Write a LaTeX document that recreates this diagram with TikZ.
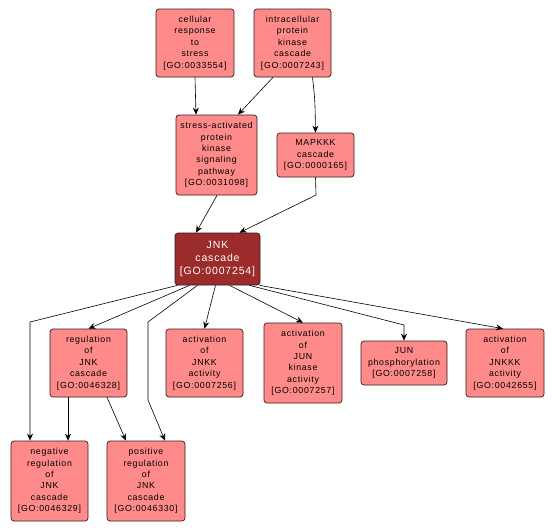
\documentclass[tikz,border=0pt]{standalone}
\usepackage{fontspec}
\setmainfont{Liberation Sans}
\newfontfamily\gofont[LetterSpace=8]{Liberation Sans}
\usetikzlibrary{arrows.meta}
\definecolor{gofill}{HTML}{FF8A8A}
\definecolor{goroot}{HTML}{9C2C2C}
\definecolor{goline}{HTML}{3A1A1A}
\begin{document}
\begin{tikzpicture}[x=1pt,y=-1pt,
  goterm/.style={draw=goline, fill=gofill, rounded corners=3pt, line width=0.7pt,
    align=center, inner sep=1pt, font=\gofont\fontsize{8.8}{11.4}\selectfont},
  gomain/.style={goterm, fill=goroot, text=white, font=\gofont\fontsize{10.5}{13}\selectfont},
  golink/.style={-{Stealth[length=7pt,width=6pt]}, line width=0.6pt, black}]
\useasboundingbox (0,0) rectangle (556,531);
\node[goterm, minimum width=78pt, minimum height=68pt] (crs) at (195,43) {cellular\\response\\to\\stress\\{[GO:0033554]}};
\node[goterm, minimum width=77pt, minimum height=68pt] (ipk) at (292.5,43) {intracellular\\protein\\kinase\\cascade\\{[GO:0007243]}};
\node[goterm, minimum width=81pt, minimum height=80pt] (sap) at (216.5,155) {stress-activated\\protein\\kinase\\signaling\\pathway\\{[GO:0031098]}};
\node[goterm, minimum width=77pt, minimum height=44pt] (mapk) at (315.5,155) {MAPKKK\\cascade\\{[GO:0000165]}};
\node[gomain, minimum width=85pt, minimum height=52pt] (jnk) at (217.5,259) {JNK\\cascade\\{[GO:0007254]}};
\node[goterm, minimum width=77pt, minimum height=68pt] (reg) at (88.5,363) {regulation\\of\\JNK\\cascade\\{[GO:0046328]}};
\node[goterm, minimum width=77pt, minimum height=68pt] (ajnkk) at (204.5,363) {activation\\of\\JNKK\\activity\\{[GO:0007256]}};
\node[goterm, minimum width=78pt, minimum height=80pt] (ajun) at (303,363) {activation\\of\\JUN\\kinase\\activity\\{[GO:0007257]}};
\node[goterm, minimum width=86pt, minimum height=44pt] (junp) at (404,363) {JUN\\phosphorylation\\{[GO:0007258]}};
\node[goterm, minimum width=78pt, minimum height=68pt] (ajnkkk) at (505,363) {activation\\of\\JNKKK\\activity\\{[GO:0042655]}};
\node[goterm, minimum width=77pt, minimum height=80pt] (neg) at (49.5,481) {negative\\regulation\\of\\JNK\\cascade\\{[GO:0046329]}};
\node[goterm, minimum width=78pt, minimum height=80pt] (pos) at (146,481) {positive\\regulation\\of\\JNK\\cascade\\{[GO:0046330]}};
% edges
\draw[golink] (crs.south) -- ([xshift=-20.5pt]sap.north);
\draw[golink] ([xshift=-19.5pt]ipk.south) -- ([xshift=21.5pt]sap.north);
\draw[golink] ([xshift=20pt]ipk.south) .. controls (315,100) .. (mapk.north);
\draw[golink] ([xshift=0.5pt]sap.south) -- ([xshift=-21.5pt]jnk.north);
\draw[golink] (mapk.south) -- (316,195) -- ([xshift=22pt]jnk.north);
\draw[golink] ([xshift=-28pt]jnk.south) -- (reg.north);
\draw[golink] ([xshift=-40pt]jnk.south) -- (30,322) -- ([xshift=-19.5pt]neg.north);
\draw[golink] ([xshift=-20pt]jnk.south) -- (148,322) -- (148,400) -- ([xshift=19pt]pos.north);
\draw[golink] ([xshift=-2pt]jnk.south) -- (ajnkk.north);
\draw[golink] ([xshift=12pt]jnk.south) -- (ajun.north);
\draw[golink] ([xshift=32pt]jnk.south) -- (404,325) -- (junp.north);
\draw[golink] ([xshift=42pt]jnk.south) -- ([xshift=-2pt]ajnkkk.north);
\draw[golink] ([xshift=-20.5pt]reg.south) -- ([xshift=18.5pt]neg.north);
\draw[golink] ([xshift=18.5pt]reg.south) -- ([xshift=-20pt]pos.north);
\end{tikzpicture}
\end{document}
